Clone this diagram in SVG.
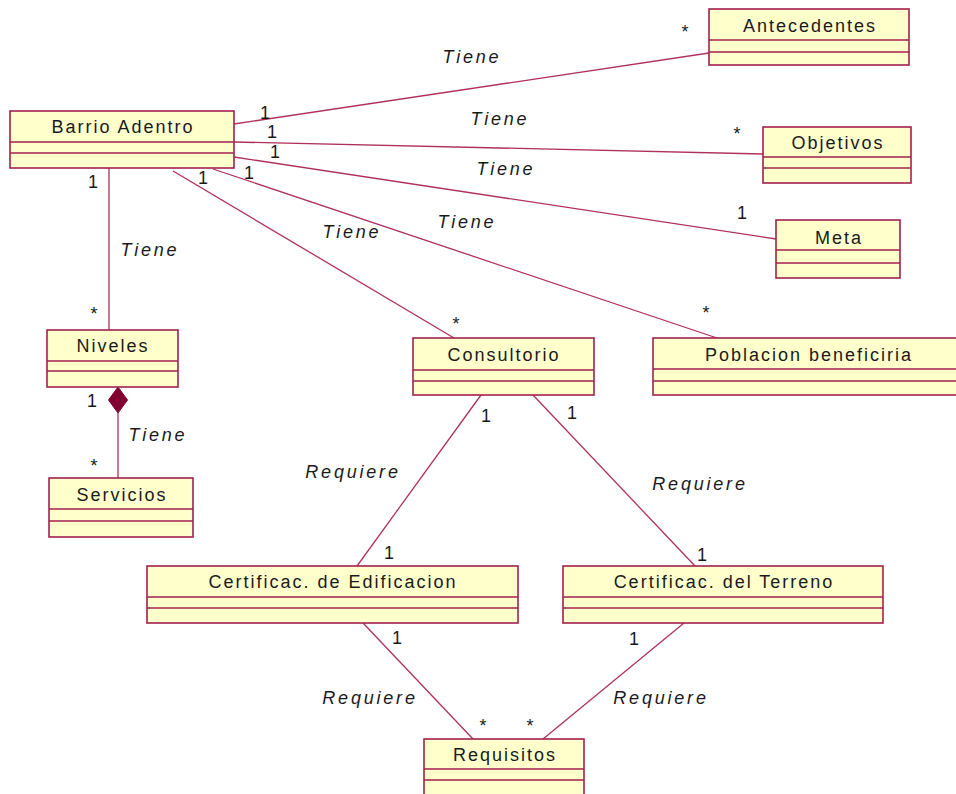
<svg xmlns="http://www.w3.org/2000/svg" width="956" height="794" viewBox="0 0 956 794">
<style>
.box{fill:#FFFFCC;stroke:#A3204F;stroke-width:1.6}
.div{stroke:#A3204F;stroke-width:1.4;fill:none}
.name{font-family:"Liberation Sans",Arial,sans-serif;font-size:18px;fill:#1a1a1a;text-anchor:middle;letter-spacing:2px}
.lbl{font-family:"Liberation Sans",Arial,sans-serif;font-size:18px;font-style:italic;fill:#1a1a1a;text-anchor:middle;letter-spacing:2.8px}
.m{font-family:"Liberation Sans",Arial,sans-serif;font-size:18px;fill:#1a1a1a;text-anchor:middle}
#connectors line{stroke:#B0305C;stroke-width:1.3}
</style>
<rect width="956" height="794" fill="#ffffff"/>
<g id="connectors">
<line x1="234" y1="124" x2="709" y2="53"/>
<line x1="234" y1="142" x2="763" y2="154"/>
<line x1="234" y1="157" x2="776" y2="239"/>
<line x1="213" y1="169" x2="717" y2="338"/>
<line x1="173" y1="171" x2="454" y2="338"/>
<line x1="109" y1="168" x2="109" y2="330"/>
<line x1="118" y1="413" x2="118" y2="478"/>
<polygon points="118,387 127.5,400 118,413 108.5,400" fill="#800030" stroke="#800030" stroke-width="1"/>
<line x1="481" y1="395" x2="357" y2="566"/>
<line x1="533" y1="395" x2="695" y2="566"/>
<line x1="363" y1="623" x2="473" y2="739"/>
<line x1="684" y1="623" x2="543" y2="739"/>
</g>
<g id="labels">
<text class="lbl" x="472" y="63">Tiene</text>
<text class="lbl" x="500" y="125">Tiene</text>
<text class="lbl" x="506" y="175">Tiene</text>
<text class="lbl" x="467" y="228">Tiene</text>
<text class="lbl" x="352" y="238">Tiene</text>
<text class="lbl" x="150" y="256">Tiene</text>
<text class="lbl" x="158" y="441">Tiene</text>
<text class="lbl" x="353" y="478">Requiere</text>
<text class="lbl" x="700" y="490">Requiere</text>
<text class="lbl" x="370" y="704">Requiere</text>
<text class="lbl" x="661" y="704">Requiere</text>
<text class="m" x="265" y="119">1</text>
<text class="m" x="272" y="138">1</text>
<text class="m" x="275" y="158">1</text>
<text class="m" x="203" y="184">1</text>
<text class="m" x="249" y="179">1</text>
<text class="m" x="93" y="188">1</text>
<text class="m" x="685" y="38">*</text>
<text class="m" x="737" y="140">*</text>
<text class="m" x="742" y="219">1</text>
<text class="m" x="456" y="330">*</text>
<text class="m" x="706" y="319">*</text>
<text class="m" x="94" y="320">*</text>
<text class="m" x="92" y="407">1</text>
<text class="m" x="94" y="472">*</text>
<text class="m" x="486" y="422">1</text>
<text class="m" x="572" y="419">1</text>
<text class="m" x="389" y="559">1</text>
<text class="m" x="702" y="561">1</text>
<text class="m" x="397" y="644">1</text>
<text class="m" x="634" y="645">1</text>
<text class="m" x="483" y="732">*</text>
<text class="m" x="530" y="732">*</text>
</g>
<g id="barrio-adentro">
<rect class="box" x="10" y="111" width="224" height="57"/>
<path class="div" d="M10 142H234M10 153H234"/>
<text class="name" x="123" y="133">Barrio Adentro</text>
</g>
<g id="antecedentes">
<rect class="box" x="709" y="9" width="200" height="56"/>
<path class="div" d="M709 40H909M709 52H909"/>
<text class="name" x="810" y="32">Antecedentes</text>
</g>
<g id="objetivos">
<rect class="box" x="763" y="127" width="148" height="56"/>
<path class="div" d="M763 157H911M763 168H911"/>
<text class="name" x="838" y="149">Objetivos</text>
</g>
<g id="meta">
<rect class="box" x="776" y="220" width="124" height="58"/>
<path class="div" d="M776 250H900M776 263H900"/>
<text class="name" x="839" y="244">Meta</text>
</g>
<g id="niveles">
<rect class="box" x="47" y="330" width="131" height="57"/>
<path class="div" d="M47 361H178M47 371H178"/>
<text class="name" x="113" y="352">Niveles</text>
</g>
<g id="servicios">
<rect class="box" x="49" y="478" width="144" height="59"/>
<path class="div" d="M49 509H193M49 521H193"/>
<text class="name" x="122" y="501">Servicios</text>
</g>
<g id="consultorio">
<rect class="box" x="413" y="338" width="181" height="57"/>
<path class="div" d="M413 370H594M413 381H594"/>
<text class="name" x="504" y="361">Consultorio</text>
</g>
<g id="poblacion-beneficiria">
<rect class="box" x="653" y="338" width="310" height="57"/>
<path class="div" d="M653 369H963M653 381H963"/>
<text class="name" x="809" y="361">Poblacion beneficiria</text>
</g>
<g id="certificac-edificacion">
<rect class="box" x="147" y="566" width="371" height="57"/>
<path class="div" d="M147 597H518M147 608H518"/>
<text class="name" x="333" y="588">Certificac. de Edificacion</text>
</g>
<g id="certificac-terreno">
<rect class="box" x="563" y="566" width="320" height="57"/>
<path class="div" d="M563 597H883M563 608H883"/>
<text class="name" x="724" y="588">Certificac. del Terreno</text>
</g>
<g id="requisitos">
<rect class="box" x="424" y="739" width="160" height="62"/>
<path class="div" d="M424 769H584M424 780H584"/>
<text class="name" x="505" y="761">Requisitos</text>
</g>
</svg>
